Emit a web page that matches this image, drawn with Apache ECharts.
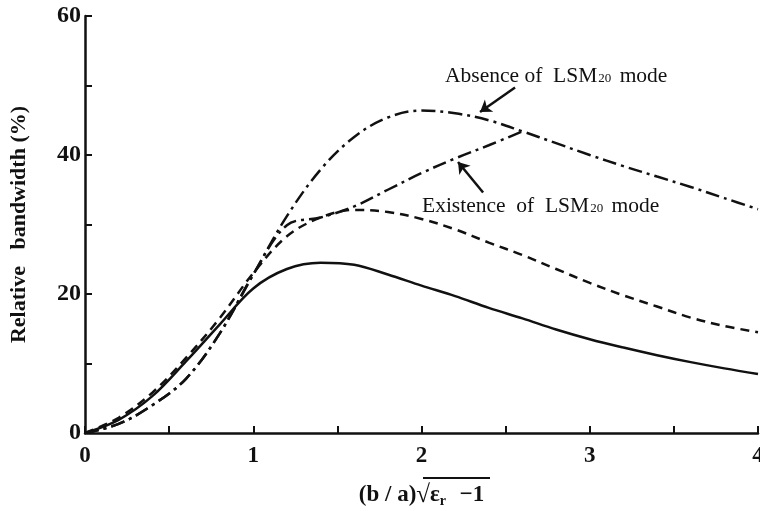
<!DOCTYPE html>
<html>
<head>
<meta charset="utf-8">
<script src="https://cdn.jsdelivr.net/npm/echarts@6/dist/echarts.min.js"></script>
<style>
  html, body { margin: 0; padding: 0; background: #fff; }
  #container { width: 760px; height: 511px; }
</style>
</head>
<body>
<div id="container"></div>
<script>
// x grid shared by every curve
var xValues = [0, 0.2, 0.4, 0.6, 0.8, 1.0, 1.2, 1.4, 1.6, 1.8, 2.0, 2.2, 2.4, 2.6, 2.8, 3.0, 3.2, 3.4, 3.6, 3.8, 4.0];

// solid curve
var solidY = [0, 1.9, 5.3, 10.3, 15.6, 20.8, 23.6, 24.5, 24.2, 22.8, 21.2, 19.7, 18.0, 16.5, 14.9, 13.5, 12.3, 11.2, 10.2, 9.3, 8.5];
// dashed curve
var dashedY = [0, 2.2, 5.8, 10.8, 16.5, 23.0, 28.3, 31.0, 32.1, 31.8, 30.8, 29.3, 27.4, 25.6, 23.6, 21.6, 19.8, 18.2, 16.6, 15.4, 14.5];
// dash-dot, absence of LSM20 mode
var absenceY = [0, 1.3, 4.0, 7.8, 14.3, 22.8, 31.2, 37.9, 42.6, 45.4, 46.4, 46.0, 45.0, 43.4, 41.7, 40.0, 38.4, 36.9, 35.4, 33.8, 32.2];
// dash-dot, existence of LSM20 mode (joins the absence curve at both ends)
var existenceY = [0, 1.3, 4.0, 7.8, 14.3, 22.8, 29.9, 31.0, 32.6, 35.0, 37.4, 39.5, 41.4, 43.4, null, null, null, null, null, null, null];

var xTicks = [0, 1, 2, 3, 4];
var yTicks = [0, 20, 40, 60];

// arrows: [from, to] in data units
var absenceArrow = [[2.556, 49.7], [2.348, 46.2]];
var existenceArrow = [[2.366, 34.6], [2.217, 39.0]];

var ink = '#111';
var serif = '"Liberation Serif", "DejaVu Serif", serif';

function pairs(ys) {
    var res = [];
    xValues.forEach(function (x, i) {
        if (ys[i] !== null) res.push([x, ys[i]]);
    });
    return res;
}

var myChart = echarts.init(document.getElementById('container'));

var series = [
    {
        name: 'solid',
        type: 'line',
        smooth: 0.35,
        symbol: 'none',
        lineStyle: { color: ink, width: 2.5, type: 'solid' },
        data: pairs(solidY)
    },
    {
        name: 'dashed',
        type: 'line',
        smooth: 0.35,
        symbol: 'none',
        lineStyle: { color: ink, width: 2.5, type: [9, 6] },
        data: pairs(dashedY)
    },
    {
        name: 'absence',
        type: 'line',
        smooth: 0.35,
        symbol: 'none',
        lineStyle: { color: ink, width: 2.5, type: [14, 5, 3, 5] },
        data: pairs(absenceY),
        markLine: {
            silent: true,
            symbol: ['none', 'arrow'],
            symbolSize: 11,
            label: { show: false },
            lineStyle: { color: ink, width: 2.5, type: 'solid' },
            data: [
                [{ coord: absenceArrow[0] }, { coord: absenceArrow[1] }],
                [{ coord: existenceArrow[0] }, { coord: existenceArrow[1] }]
            ]
        }
    },
    {
        name: 'existence',
        type: 'line',
        smooth: 0.35,
        symbol: 'none',
        lineStyle: { color: ink, width: 2.5, type: [14, 5, 3, 5] },
        data: pairs(existenceY)
    }
];

var option = {
    backgroundColor: '#fff',
    animation: false,
    grid: { left: 85, right: 2, top: 16, bottom: 78, outerBoundsMode: 'none', containLabel: false },
    xAxis: {
        type: 'value',
        min: 0,
        max: 4,
        interval: 1,
        axisLine: { lineStyle: { color: ink, width: 2.5 } },
        axisTick: { inside: true, length: 7, lineStyle: { color: ink, width: 2 } },
        minorTick: { show: true, splitNumber: 2, length: 7, lineStyle: { color: ink, width: 2 } },
        splitLine: { show: false },
        axisLabel: {
            margin: 12,
            color: ink,
            fontFamily: serif,
            fontSize: 23,
            fontWeight: 'bold',
            formatter: function (v) { return xTicks.indexOf(v) >= 0 ? String(v) : ''; }
        },
        name: '{a|(b / a)}{s|√}{a|ε}{sub|r}{a|  −1}',
        nameLocation: 'middle',
        nameGap: 50,
        nameTextStyle: {
            rich: {
                a: { fontFamily: serif, fontSize: 23, fontWeight: 'bold', color: ink },
                s: { fontFamily: serif, fontSize: 25, color: ink },
                sub: { fontFamily: serif, fontSize: 14, fontWeight: 'bold', color: ink, verticalAlign: 'bottom', padding: [8, 2, 0, 0] }
            }
        }
    },
    yAxis: {
        type: 'value',
        min: 0,
        max: 60,
        interval: 20,
        axisLine: { show: true, lineStyle: { color: ink, width: 2.5 } },
        axisTick: { show: true, inside: true, length: 7, lineStyle: { color: ink, width: 2 } },
        minorTick: { show: true, splitNumber: 2, length: 7, lineStyle: { color: ink, width: 2 } },
        splitLine: { show: false },
        axisLabel: {
            margin: 4,
            color: ink,
            fontFamily: serif,
            fontSize: 24,
            fontWeight: 'bold',
            formatter: function (v) { return yTicks.indexOf(v) >= 0 ? String(v) : ''; }
        },
        name: 'Relative   bandwidth (%)',
        nameLocation: 'middle',
        nameGap: 55,
        nameTextStyle: { color: ink, fontFamily: serif, fontSize: 22, fontWeight: 'bold' }
    },
    graphic: [
        {
            type: 'text',
            left: 445,
            top: 65,
            style: {
                text: 'Absence of  LSM{sub|20} mode',
                fill: ink,
                font: '21.5px ' + serif,
                rich: { sub: { fontFamily: serif, fontSize: 13, fill: ink, padding: [6, 3, 0, 1] } }
            }
        },
        {
            type: 'text',
            left: 422,
            top: 195,
            style: {
                text: 'Existence  of  LSM{sub|20} mode',
                fill: ink,
                font: '21.5px ' + serif,
                rich: { sub: { fontFamily: serif, fontSize: 13, fill: ink, padding: [6, 3, 0, 1] } }
            }
        },
        {
            // overline of the square root in the x axis name
            type: 'line',
            shape: { x1: 423, y1: 478, x2: 490, y2: 478 },
            style: { stroke: ink, lineWidth: 1.8 }
        }
    ],
    series: series
};

myChart.setOption(option);
</script>
</body>
</html>
